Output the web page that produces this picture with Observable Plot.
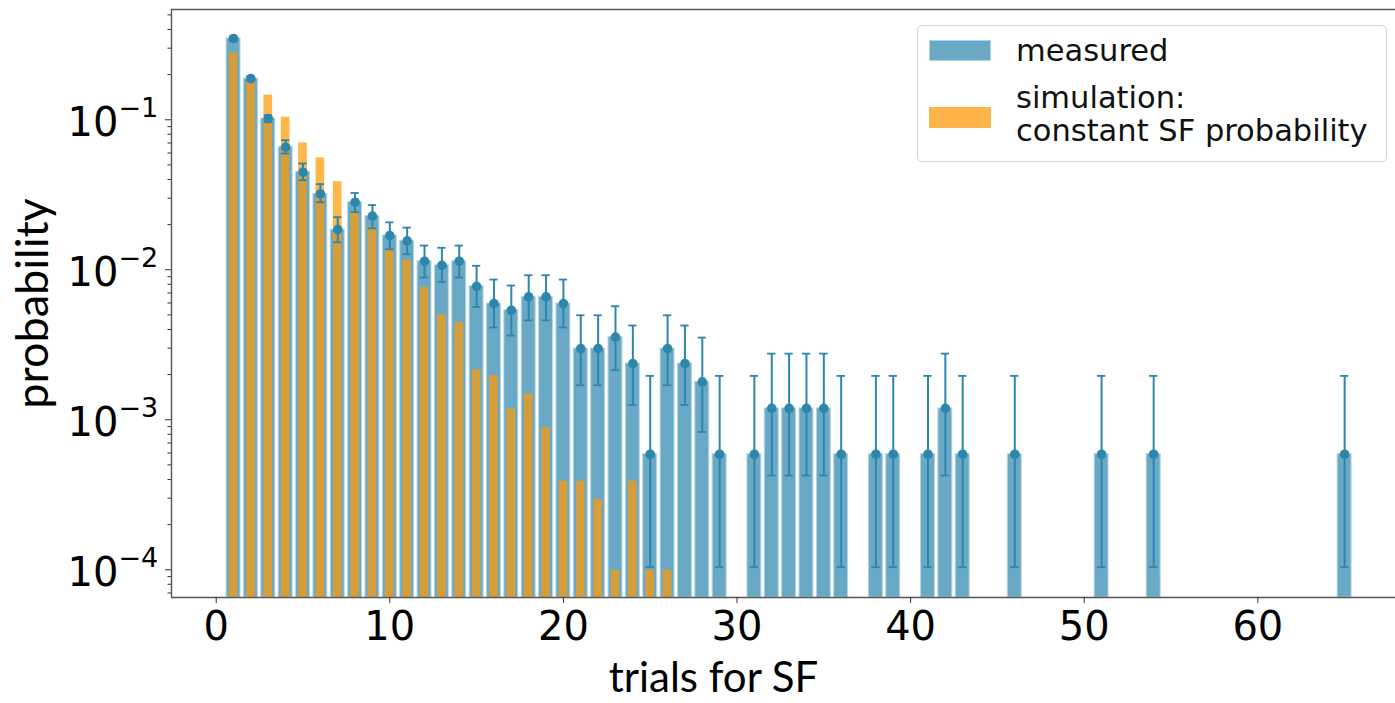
<!DOCTYPE html>
<html>
<head>
<meta charset="utf-8">
<script src="https://cdn.jsdelivr.net/npm/d3@7"></script>
<script src="https://cdn.jsdelivr.net/npm/@observablehq/plot@0.6"></script>
<style>
  html, body { margin: 0; padding: 0; background: #fff; }
  #wrap { position: relative; width: 1395px; height: 703px; overflow: hidden; }
  #legend { position: absolute; left: 917px; top: 25px; width: 470px; height: 137px;
    border: 1.2px solid #d6d6d6; border-radius: 5px; background: rgba(255,255,255,0.85);
    font-family: "DejaVu Sans", sans-serif; font-size: 30.5px; color: #111; box-sizing: border-box; }
  #legend .sw { position: absolute; width: 62px; height: 21px; left: 11px; }
  #legend .lb { position: absolute; left: 98px; line-height: 30.5px; white-space: nowrap; }
</style>
</head>
<body>
<div id="wrap"></div>
<script>
// ---- data ----
const trials = [1,2,3,4,5,6,7,8,9,10,11,12,13,14,15,16,17,18,19,20,21,22,23,24,25,26,27,28,29,31,32,33,34,35,36,38,39,41,42,43,46,51,54,65];
const measured = [0.348,0.188,0.1018,0.0656,0.0447,0.0320,0.0185,0.0282,0.0228,0.0169,0.0156,0.0114,0.0107,0.0114,0.00776,0.00595,0.00537,0.00659,0.00659,0.00595,0.00298,0.00298,0.00356,0.00237,0.000589,0.00298,0.00237,0.00179,0.000589,0.000589,0.00119,0.00119,0.00119,0.00119,0.000589,0.000589,0.000589,0.000589,0.00119,0.000589,0.000589,0.000589,0.000589,0.000589];
const errLow = [0.337,0.181,0.0967,0.0595,0.0395,0.0282,0.01525,0.0242,0.0189,0.0137,0.0127,0.00887,0.00829,0.00887,0.00565,0.00412,0.00364,0.0046,0.0046,0.00412,0.0017,0.0017,0.00214,0.001255,0.000104,0.0017,0.001255,0.000829,0.000104,0.000104,0.000425,0.000425,0.000425,0.000425,0.000104,0.000104,0.000104,0.000104,0.000425,0.000104,0.000104,0.000104,0.000104,0.000104];
const errHigh = [0.359,0.195,0.1072,0.0730,0.0511,0.0372,0.0224,0.0325,0.0270,0.0207,0.0191,0.0145,0.0140,0.0145,0.01063,0.0086,0.00785,0.00919,0.00919,0.0086,0.00497,0.00497,0.00571,0.00425,0.00196,0.00497,0.00425,0.00353,0.00196,0.00196,0.00276,0.00276,0.00276,0.00276,0.00196,0.00196,0.00196,0.00196,0.00276,0.00196,0.00196,0.00196,0.00196,0.00196];
const simTrials = [1,2,3,4,5,6,7,8,9,10,11,12,13,14,15,16,17,18,19,20,21,22,23,24,25,26];
const simulation = [0.279,0.183,0.146,0.104,0.070,0.0556,0.0387,0.0243,0.0193,0.0135,0.01157,0.00764,0.00503,0.00445,0.00215,0.00197,0.00118,0.00149,0.000887,0.000389,0.000389,0.000294,0.0000992,0.000389,0.0000992,0.0000992];
const xTicks = [0,10,20,30,40,50,60];
const yTicks = [1e-1,1e-2,1e-3,1e-4];
const yTickExp = ["\u22121","\u22122","\u22123","\u22124"];
const xLabel = "trials for SF";
const yLabel = "probability";
const seriesNames = ["measured", "simulation:", "constant SF probability"];

// ---- tables ----
const meas = trials.map((t, i) => ({t, v: measured[i], lo: errLow[i], hi: errHigh[i]}));
const sim = simTrials.map((t, i) => ({t, v: simulation[i]}));
const yMin = Math.pow(10, -4.185), yMax = Math.pow(10, -0.265);
const xMin = -2.575, xMax = 67.93;
const minor = [];
for (let e = -5; e <= 0; e++) for (let m = 2; m <= 9; m++) { const v = m * Math.pow(10, e); if (v > yMin && v < yMax) minor.push(v); }
const yt = yTicks.map((v, i) => ({v, e: yTickExp[i]}));

const blue = "#6aa9c5", dark = "#2e86ab";
const font = "DejaVu Sans, sans-serif";

const chart = Plot.plot({
  width: 1395, height: 703,
  marginLeft: 171, marginRight: 0, marginTop: 9, marginBottom: 106,
  style: {fontFamily: font, background: "white", color: "#000", overflow: "visible"},
  x: {domain: [xMin, xMax]},
  y: {type: "log", domain: [yMin, yMax]},
  marks: [
    Plot.rect(meas, {x1: d => d.t - 0.4, x2: d => d.t + 0.4, y1: yMin, y2: "v", fill: blue, stroke: "#b3d4e3", strokeWidth: 1}),
    Plot.rect(sim, {x1: d => d.t - 0.25, x2: d => d.t + 0.25, y1: yMin, y2: "v", fill: "#ff9a05", fillOpacity: 0.72, clip: true}),
    Plot.ruleX(meas, {x: "t", y1: "lo", y2: "hi", stroke: dark, strokeWidth: 2}),
    Plot.ruleY(meas, {y: "lo", x1: d => d.t - 0.24, x2: d => d.t + 0.24, stroke: dark, strokeWidth: 1.8}),
    Plot.ruleY(meas, {y: "hi", x1: d => d.t - 0.24, x2: d => d.t + 0.24, stroke: dark, strokeWidth: 1.8}),
    Plot.dot(meas, {x: "t", y: "v", r: 4.8, fill: dark, stroke: "none"}),
    // frame lines
    Plot.ruleY([yMax], {stroke: "#555", strokeWidth: 1.4}),
    Plot.ruleY([yMin], {stroke: "#555", strokeWidth: 1.4}),
    Plot.ruleX([xMin], {stroke: "#555", strokeWidth: 1.4}),
    // axes
    Plot.axisX({ticks: xTicks, tickSize: 6, tickPadding: 8, fontSize: 40, tickFormat: d => String(d), label: null, stroke: "#333"}),
    Plot.axisY({ticks: minor, tickSize: 3.5, tickFormat: () => "", label: null, stroke: "#333"}),
    Plot.axisY({ticks: yTicks, tickSize: 6, tickFormat: () => "", label: null, stroke: "#333"}),
    Plot.text(yt, {y: "v", text: () => "10", frameAnchor: "left", textAnchor: "end", dx: -53, dy: 3, fontSize: 40, fill: "#000"}),
    Plot.text(yt, {y: "v", text: "e", frameAnchor: "left", textAnchor: "start", dx: -53, dy: -11, fontSize: 27, fill: "#000"}),
    Plot.text([xLabel], {text: d => d, frameAnchor: "bottom-left", textAnchor: "middle", lineAnchor: "middle", dx: 542, dy: 81, fontSize: 42, fontFamily: "Lato, sans-serif", fill: "#000"}),
    Plot.text([yLabel], {text: d => d, frameAnchor: "left", textAnchor: "middle", lineAnchor: "middle", dx: -138, rotate: -90, fontSize: 45, fontFamily: "Lato, sans-serif", fill: "#000"})
  ]
});

const wrap = document.getElementById("wrap");
wrap.appendChild(chart);

const lg = document.createElement("div");
lg.id = "legend";
lg.innerHTML =
  `<div class="sw" style="top:14px;background:${blue};border:1px solid #b3d4e3;box-sizing:border-box"></div>` +
  `<div class="sw" style="top:81px;background:#ffb44b"></div>` +
  `<div class="lb" style="top:10px">${seriesNames[0]}</div>` +
  `<div class="lb" style="top:57px">${seriesNames[1]}</div>` +
  `<div class="lb" style="top:90px">${seriesNames[2]}</div>`;
wrap.appendChild(lg);
</script>
</body>
</html>
